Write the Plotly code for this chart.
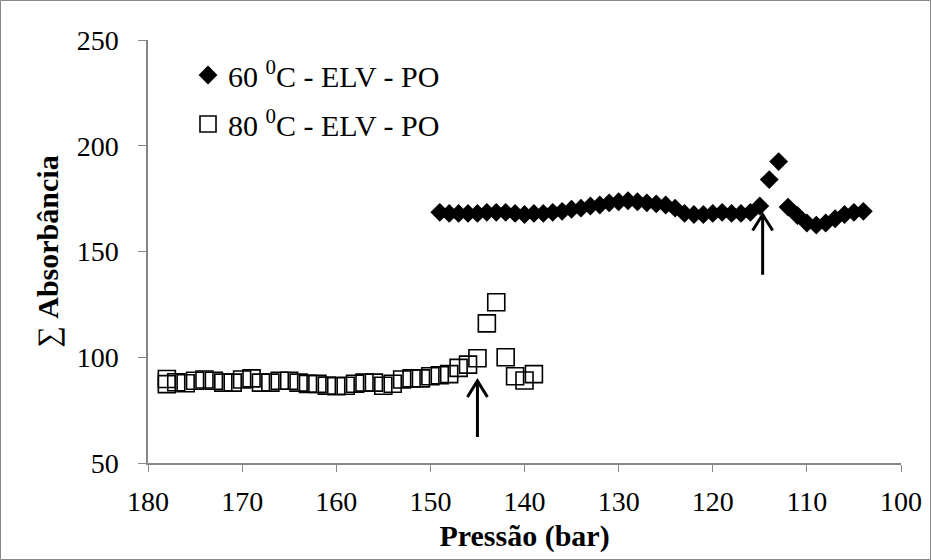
import plotly.graph_objects as go

# ---- data ----
p60 = [149, 148, 147, 146, 145, 144, 143, 142, 141, 140, 139, 138, 137, 136, 135, 134,
       133, 132, 131, 130, 129, 128, 127, 126, 125, 124, 123, 122, 121, 120, 119, 118,
       117, 116, 115, 114, 113, 112, 111, 110, 109, 108, 107, 106, 105, 104]
a60 = [168.5, 168, 168, 168, 168, 168.5, 168.5, 168.5, 168, 167.5, 168, 168, 168.5, 169, 170, 170.5,
       171.5, 172, 173, 173.5, 174, 173.5, 173, 172.5, 172, 170.5, 168, 167.5, 167.5, 168, 168.5, 168,
       168, 168.5, 171.5, 184, 192.5, 171, 167, 163.5, 162.5, 163.5, 165.5, 167.5, 168.5, 169]

p80 = [178, 178, 177, 176, 175, 174, 173, 172, 171, 170, 169, 168, 167, 166, 165, 164,
       163, 162, 161, 160, 159, 158, 157, 156, 155, 154, 153, 152, 151, 150, 149, 148,
       147, 146, 145, 144, 143, 142, 141, 140, 139]
a80 = [89.7, 87.3, 88.2, 87.7, 88.9, 89.5, 88.9, 88, 88, 89.5, 90, 88, 88, 88.9, 88.9, 88,
       87.4, 87.4, 86.6, 86.3, 86.5, 87.5, 88, 88, 86.5, 87.5, 89.5, 90, 90, 91, 91.5, 92,
       95, 96.5, 99.5, 116, 126, 100, 91, 89, 92]

names = ["60 <sup>0</sup>C - ELV - PO", "80 <sup>0</sup>C - ELV - PO"]
x_ticks = [180, 170, 160, 150, 140, 130, 120, 110, 100]
y_ticks = [50, 100, 150, 200, 250]
x_range = [180, 100]
y_range = [50, 250]

# arrows: (pressure, tail value, tip value)
arrows = [(145, 62.3, 88.8), (114.7, 139, 167.5)]

FONT = "Liberation Serif, Times New Roman, serif"
GRAY = "#868686"
W, H = 931, 560
ML, MR, MT, MB = 148, 30, 40, 97
PW, PH = W - ML - MR, H - MT - MB
# data units per pixel (used to size the arrow heads in pixels)
ux = abs(x_range[1] - x_range[0]) / PW
uy = abs(y_range[1] - y_range[0]) / PH
HEAD_W, HEAD_H = 10, 16  # half-width, height in px

fig = go.Figure()
fig.add_trace(go.Scatter(
    x=p60, y=a60, mode="markers", name=names[0], legend="legend",
    marker=dict(symbol="diamond", size=14.5, color="black", line=dict(width=0)),
))
fig.add_trace(go.Scatter(
    x=p80, y=a80, mode="markers", name=names[1], legend="legend2",
    marker=dict(symbol="square-open", size=17, color="black", line=dict(width=1.6)),
))

for (px, y0, y1) in arrows:
    fig.add_shape(type="line", xref="x", yref="y", x0=px, x1=px, y0=y0, y1=y1 - 0.5,
                  line=dict(color="black", width=3))
    path = (f"M {px + HEAD_W * ux},{y1 - HEAD_H * uy} L {px},{y1} "
            f"L {px - HEAD_W * ux},{y1 - HEAD_H * uy}")
    fig.add_shape(type="path", xref="x", yref="y", path=path,
                  line=dict(color="black", width=3))

fig.add_shape(type="rect", xref="paper", yref="paper",
              x0=(0.5 - ML) / PW, x1=(W - 0.5 - ML) / PW,
              y0=-(MB - 0.5) / PH, y1=1 + (MT - 0.5) / PH,
              line=dict(color=GRAY, width=1))

fig.update_layout(
    width=W, height=H,
    margin=dict(l=ML, r=MR, t=MT, b=MB, autoexpand=False),
    paper_bgcolor="white", plot_bgcolor="white",
    font=dict(family=FONT, size=28, color="black"),
    showlegend=True,
    legend=dict(x=(188 - ML) / PW, y=1 - (75 - MT) / PH, xanchor="left", yanchor="middle",
                bgcolor="rgba(0,0,0,0)", font=dict(family=FONT, size=30)),
    legend2=dict(x=(188 - ML) / PW, y=1 - (124 - MT) / PH, xanchor="left", yanchor="middle",
                 bgcolor="rgba(0,0,0,0)", font=dict(family=FONT, size=30)),
    xaxis=dict(range=x_range, tickvals=x_ticks, ticks="outside", ticklen=7,
               tickcolor=GRAY, showline=True, linecolor=GRAY, linewidth=1.5,
               showgrid=False, zeroline=False, ticklabelstandoff=6,
               tickfont=dict(family=FONT, size=28),
               title=dict(text="<b>Pressão (bar)</b>", standoff=9,
                          font=dict(family=FONT, size=30))),
    yaxis=dict(range=y_range, tickvals=y_ticks, ticks="outside", ticklen=8,
               tickcolor=GRAY, showline=True, linecolor=GRAY, linewidth=1.5,
               showgrid=False, zeroline=False, ticklabelstandoff=14,
               tickfont=dict(family=FONT, size=28),
               title=dict(text="∑ <b>Absorbância</b>", standoff=9,
                          font=dict(family=FONT, size=30))),
)

fig.write_html("out.html")
